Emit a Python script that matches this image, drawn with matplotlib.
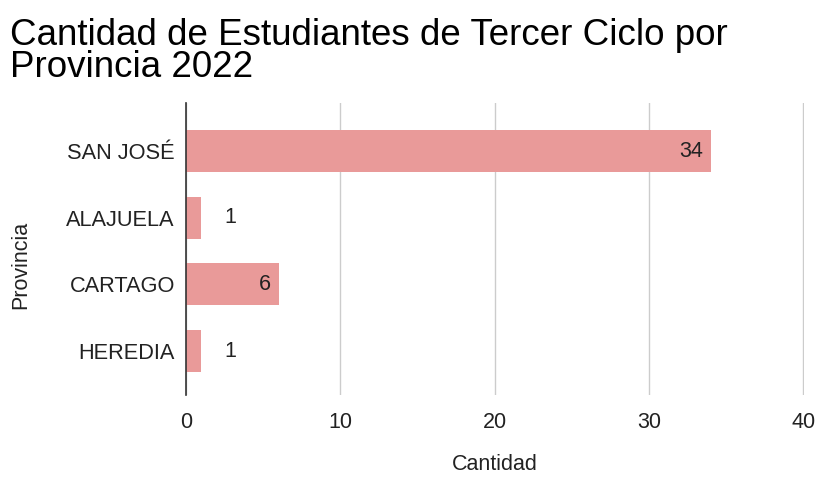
import matplotlib.pyplot as plt

provincias = ["SAN JOSÉ", "ALAJUELA", "CARTAGO", "HEREDIA"]
cantidad = [34, 1, 6, 1]
xticks = [0, 10, 20, 30, 40]

plt.rcParams['font.family'] = ['Liberation Sans', 'DejaVu Sans']

fig = plt.figure(figsize=(8.17, 4.8), dpi=100)
ax = fig.add_axes([0.2277, 0.177, 0.7563, 0.608])

ypos = list(range(len(provincias)))
ax.barh(ypos, cantidad, height=0.63, color="#e99a99", zorder=2)

# etiquetas de valor: dentro de la barra si cabe, si no fuera
for y, v in zip(ypos, cantidad):
	if v > 3:
		ax.text(v - 0.5, y, str(v), ha="right", va="center", fontsize=15.5, color="#222222", zorder=3)
	else:
		ax.text(v + 1.5, y, str(v), ha="left", va="center", fontsize=15.5, color="#222222", zorder=3)

ax.set_xlim(0, 40.05)
ax.set_ylim(3.66, -0.72)
ax.set_yticks(ypos)
ax.set_yticklabels(provincias, fontsize=15.7, color="#222222")
ax.set_xticks(xticks)
ax.set_xticklabels([str(t) for t in xticks], fontsize=15.5, color="#222222")
ax.tick_params(length=0, pad=8)
ax.tick_params(axis="x", pad=12)

ax.grid(axis="x", color="#cccccc", lw=1, zorder=0)
for s in ["top", "right", "bottom"]:
	ax.spines[s].set_visible(False)
ax.spines["left"].set_color("#333333")
ax.spines["left"].set_linewidth(1.2)
ax.spines["left"].set_zorder(4)

fig.text(0.6058, 0.02, "Cantidad", ha="center", va="baseline", fontsize=15.5, color="#222222")
fig.text(0.025, 0.448, "Provincia", ha="center", va="center", rotation=90, fontsize=15.5, color="#222222")
fig.text(0.012, 0.962, "Cantidad de Estudiantes de Tercer Ciclo por\nProvincia 2022", ha="left", va="top",
	fontsize=26.5, color="#000000", linespacing=0.88)

fig.savefig("out.png", dpi=100)
